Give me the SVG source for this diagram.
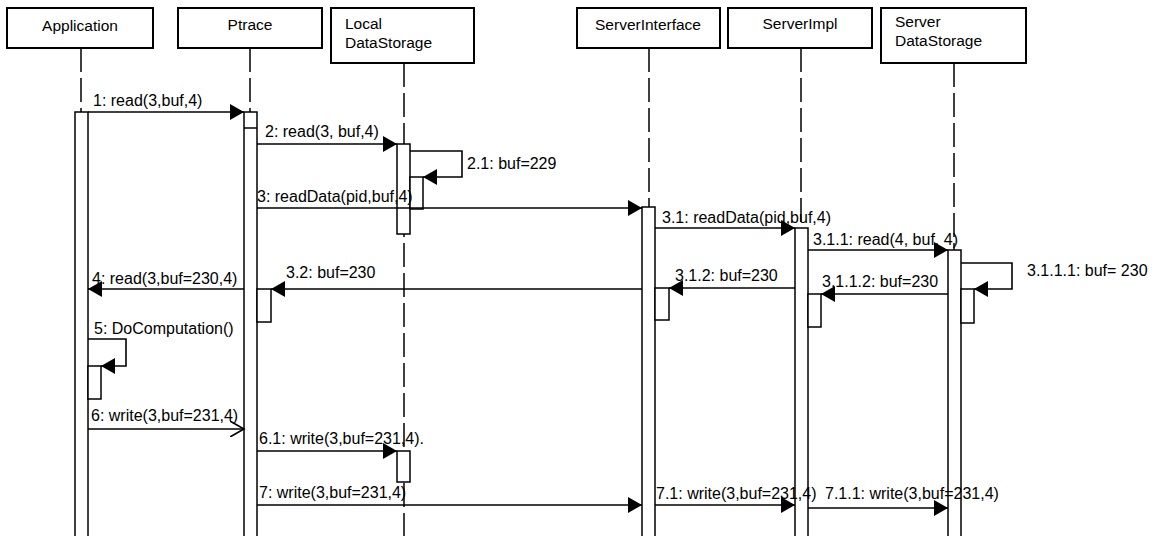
<svg xmlns="http://www.w3.org/2000/svg" width="1156" height="536" viewBox="0 0 1156 536">
<style>
text{font-family:"Liberation Sans",Arial,sans-serif;font-size:16px;fill:#000}
.hd{font-size:15.5px}
.box{fill:#fff;stroke:#000;stroke-width:2}
.life{stroke:#000;stroke-width:1.5;stroke-dasharray:24 6;fill:none}
.act{fill:#fff;stroke:#000;stroke-width:1.5}
.msg{stroke:#000;stroke-width:1.6;fill:none;marker-end:url(#fa)}
.amsg{stroke:#000;stroke-width:1.6;fill:none;marker-end:url(#oa)}
.mid{text-anchor:middle}
</style>
<defs>
<marker id="fa" markerWidth="16" markerHeight="16" refX="14" refY="8" orient="auto" markerUnits="userSpaceOnUse"><path d="M0,0 L14,8 L0,16 z" fill="#000"/></marker>
<marker id="oa" markerWidth="16" markerHeight="16" refX="14" refY="8" orient="auto" markerUnits="userSpaceOnUse"><path d="M0,0 L14,8 L0,16" fill="none" stroke="#000" stroke-width="1.6"/></marker>
</defs>
<rect width="1156" height="536" fill="#fff"/>

<g id="application">
<line class="life" x1="81" y1="48" x2="81" y2="536"/>
<rect class="box" x="7" y="8" width="146" height="40"/>
<text class="mid hd" x="80" y="31">Application</text>
<rect class="act" x="75" y="112" width="13" height="440"/>
<rect class="act" x="88" y="366" width="13" height="33"/>
</g>

<g id="ptrace">
<line class="life" x1="250" y1="48" x2="250" y2="536"/>
<rect class="box" x="178" y="8" width="144" height="40"/>
<text class="mid hd" x="250" y="30">Ptrace</text>
<rect class="act" x="244" y="112" width="13" height="440"/>
<line x1="244" y1="128" x2="257" y2="128" stroke="#000" stroke-width="1.5"/>
<rect class="act" x="257" y="289" width="14" height="33"/>
</g>

<g id="local-datastorage">
<line class="life" x1="404" y1="63" x2="404" y2="536"/>
<rect class="box" x="331" y="8" width="143" height="55"/>
<text class="hd" x="345" y="29">Local</text>
<text class="hd" x="345" y="48">DataStorage</text>
<rect class="act" x="397" y="144" width="13" height="90"/>
<rect class="act" x="410" y="177" width="13" height="32"/>
<rect class="act" x="397" y="451" width="13" height="31"/>
</g>

<g id="serverinterface">
<line class="life" x1="649" y1="48" x2="649" y2="536"/>
<rect class="box" x="577" y="8" width="143" height="40"/>
<text class="mid hd" x="648" y="30">ServerInterface</text>
<rect class="act" x="642" y="207" width="13" height="345"/>
<rect class="act" x="655" y="288" width="14" height="32"/>
</g>

<g id="serverimpl">
<line class="life" x1="801" y1="48" x2="801" y2="536"/>
<rect class="box" x="728" y="8" width="144" height="40"/>
<text class="mid hd" x="800" y="29">ServerImpl</text>
<rect class="act" x="795" y="228" width="13" height="324"/>
<rect class="act" x="808" y="294" width="13" height="33"/>
</g>

<g id="server-datastorage">
<line class="life" x1="954" y1="63" x2="954" y2="536"/>
<rect class="box" x="881" y="8" width="145" height="55"/>
<text class="hd" x="895" y="27">Server</text>
<text class="hd" x="895" y="46">DataStorage</text>
<rect class="act" x="948" y="250" width="13" height="302"/>
<rect class="act" x="961" y="289" width="13" height="34"/>
</g>

<g id="connectors">
<line class="msg" x1="88" y1="112" x2="244" y2="112"/>
<text x="93" y="106">1: read(3,buf,4)</text>

<line class="msg" x1="257" y1="144" x2="397" y2="144"/>
<text x="265" y="137">2: read(3, buf,4)</text>

<polyline class="msg" points="410,151 462,151 462,177 423,177"/>
<text x="467" y="169">2.1: buf=229</text>

<line class="msg" x1="257" y1="208" x2="642" y2="208"/>
<text x="257" y="202">3: readData(pid,buf,4)</text>

<line class="msg" x1="655" y1="228" x2="795" y2="228"/>
<text x="662" y="223">3.1: readData(pid,buf,4)</text>

<line class="msg" x1="808" y1="250" x2="948" y2="250"/>
<text x="813" y="245">3.1.1: read(4, buf, 4)</text>

<polyline class="msg" points="961,263 1012,263 1012,289 974,289"/>
<text x="1027" y="276">3.1.1.1: buf= 230</text>

<line class="msg" x1="948" y1="294" x2="821" y2="294"/>
<text x="822" y="287">3.1.1.2: buf=230</text>

<line class="msg" x1="795" y1="288" x2="669" y2="288"/>
<text x="675" y="281">3.1.2: buf=230</text>

<line class="msg" x1="642" y1="289" x2="271" y2="289"/>
<text x="286" y="278">3.2: buf=230</text>

<line class="msg" x1="244" y1="289" x2="88" y2="289"/>
<text x="92" y="284">4: read(3,buf=230,4)</text>

<polyline class="msg" points="88,339 126,339 126,366 101,366"/>
<text x="94" y="334">5: DoComputation()</text>

<line class="amsg" x1="88" y1="429" x2="244" y2="429"/>
<text x="91" y="421">6: write(3,buf=231,4)</text>

<line class="msg" x1="257" y1="451" x2="397" y2="451"/>
<text x="259" y="444">6.1: write(3,buf=231,4).</text>

<line class="msg" x1="257" y1="505" x2="642" y2="505"/>
<text x="259" y="498">7: write(3,buf=231,4)</text>

<line class="msg" x1="655" y1="505" x2="795" y2="505"/>
<text x="656" y="499">7.1: write(3,buf=231,4)</text>

<line class="msg" x1="808" y1="508" x2="948" y2="508"/>
<text x="825" y="499">7.1.1: write(3,buf=231,4)</text>
</g>
</svg>
